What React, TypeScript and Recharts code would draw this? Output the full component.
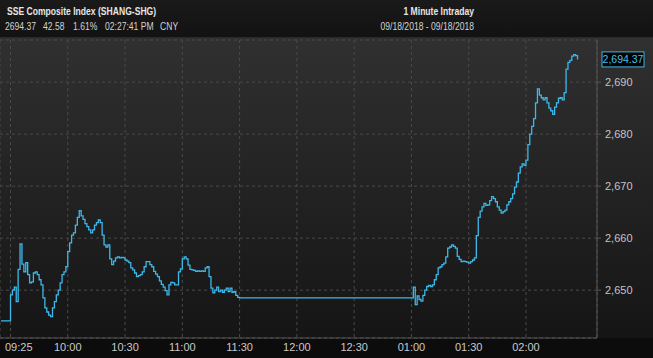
import React from 'react';
import { LineChart, Line, XAxis, YAxis, CartesianGrid, ReferenceLine } from 'recharts';

const TITLE = 'SSE Composite Index (SHANG-SHG)';
const QUOTE_ITEMS = ['2694.37', '42.58', '1.61%', '02:27:41 PM', 'CNY'];
const INTERVAL = '1 Minute Intraday';
const DATE_RANGE = '09/18/2018 - 09/18/2018';

const OPEN_TIME = '09:25';
const OPEN_VALUE = 2644.1;
const MORNING_START = '09:30';
const morningValues = [
  2649.1, 2650.0, 2650.6, 2647.8, 2654.0, 2658.9, 2655.0, 2653.5, 2655.3, 2653.0,
  2651.4, 2651.6, 2653.3, 2653.5, 2653.0, 2652.0, 2651.0, 2648.5, 2646.6, 2645.8,
  2645.2, 2644.9, 2646.6, 2647.8, 2649.1, 2650.0, 2651.4, 2653.0, 2653.5, 2654.5,
  2657.4, 2659.1, 2660.6, 2661.0, 2662.5, 2664.0, 2665.3, 2664.3, 2663.6, 2662.8,
  2662.2, 2661.6, 2661.0, 2661.6, 2662.5, 2663.0, 2663.5, 2663.0, 2660.6, 2658.7,
  2658.3, 2658.7, 2656.0, 2654.9, 2655.6, 2656.2, 2656.4, 2656.2, 2656.3, 2656.2,
  2655.8, 2655.6, 2655.3, 2654.3, 2653.9, 2653.3, 2652.6, 2652.8, 2653.0, 2653.5,
  2654.5, 2655.5, 2655.5, 2654.9, 2654.5, 2653.6, 2653.1, 2652.6, 2651.8, 2651.1,
  2650.6, 2649.9, 2649.1, 2651.0, 2651.5, 2651.4, 2651.0, 2651.0, 2653.5, 2654.1,
  2656.0, 2656.4, 2656.0, 2654.8, 2654.0, 2653.9, 2653.8, 2653.6, 2653.7, 2653.6,
  2653.7, 2653.6, 2654.3, 2654.5, 2652.6, 2650.4, 2649.5, 2650.0, 2650.6, 2649.7,
  2650.0, 2649.6, 2650.0, 2650.4, 2649.7, 2650.4, 2649.6, 2649.7, 2649.0, 2648.6,
  2648.5,
];
const AFTERNOON_START = '13:00';
const afternoonValues = [
  2648.5, 2650.6, 2647.2, 2648.9, 2648.2, 2647.9, 2649.0, 2650.0, 2650.7, 2650.9,
  2650.7, 2651.0, 2652.0, 2653.0, 2654.3, 2654.5, 2654.9, 2655.2, 2656.4, 2658.1,
  2658.3, 2658.7, 2658.4, 2658.1, 2656.5, 2655.9, 2655.5, 2655.6, 2655.5, 2655.4,
  2655.2, 2655.5, 2655.8, 2656.2, 2660.5, 2664.0, 2665.2, 2666.0, 2666.7, 2666.3,
  2666.4, 2667.2, 2668.0, 2667.6, 2667.0, 2666.0, 2665.4, 2664.8, 2665.1, 2665.4,
  2666.4, 2667.0, 2667.6, 2668.5, 2669.8, 2670.8, 2672.5, 2673.7, 2674.3, 2674.0,
  2675.0, 2678.0, 2680.0, 2681.5, 2683.0, 2686.0, 2688.7, 2687.5, 2687.0, 2686.6,
  2687.0, 2686.0, 2685.0, 2684.5, 2683.8, 2685.2, 2686.0, 2686.9, 2687.0, 2686.6,
  2688.0, 2692.5, 2693.8, 2694.2, 2695.0, 2695.3, 2695.1, 2694.37,
];
const LAST_VALUE = 2694.37;

const xTickTimes = ['09:30', '10:00', '10:30', '11:00', '11:30', '12:00', '12:30', '13:00', '13:30', '14:00'];
const xTickLabels = ['09:25', '10:00', '10:30', '11:00', '11:30', '12:00', '12:30', '01:00', '01:30', '02:00'];
const yTicks = [2650, 2660, 2670, 2680, 2690];
const Y_DOMAIN = [2640.8, 2698.1];

const toMin = (s: string) => {
  const [h, m] = s.split(':');
  return Number(h) * 60 + Number(m);
};

const data = [
  { t: toMin(OPEN_TIME), v: OPEN_VALUE },
  ...morningValues.map((v, i) => ({ t: toMin(MORNING_START) + i, v })),
  ...afternoonValues.map((v, i) => ({ t: toMin(AFTERNOON_START) + i, v })),
];
const xTicks = xTickTimes.map(toMin);

const AXIS_FONT = '"Liberation Sans", Arial, sans-serif';
const HEAD_SCALE = 0.78;

const XTick = (props: any) => {
  const { x, y, payload, index } = props;
  const label = xTickLabels[xTicks.indexOf(payload.value)] ?? '';
  const first = index === 0;
  return (
    <text
      x={first ? 5 : x}
      y={y}
      dy={9}
      textAnchor={first ? 'start' : 'middle'}
      fill="#c9c9c9"
      fontSize={11}
      fontFamily={AXIS_FONT}
    >
      {label}
    </text>
  );
};

const LastLabel = (props: any) => {
  const vb = props.viewBox || {};
  const bx = vb.x + vb.width + 5;
  const by = vb.y;
  return (
    <g>
      <rect x={bx} y={by - 7.5} width={42} height={15} fill="#000" stroke="#3db8ea" strokeWidth={1} />
      <text x={bx + 21} y={by} dy="0.36em" textAnchor="middle" fill="#45c0f0" fontSize={10.5} fontFamily={AXIS_FONT}>
        {LAST_VALUE.toLocaleString('en-US', { minimumFractionDigits: 2 })}
      </text>
    </g>
  );
};

const quoteX = [5, 43, 73, 105, 160];

export default function App() {
  const s = (x: number) => x / HEAD_SCALE;
  return (
    <div style={{ position: 'absolute', left: 0, top: 0, width: 653, height: 358, overflow: 'hidden', background: '#0c0c0c' }}>
      <div style={{ position: 'absolute', left: 0, top: 0, width: 653, height: 37, background: 'linear-gradient(#1a1a1a, #121212)' }} />
      <div style={{ position: 'absolute', left: 0, top: 37, width: 653, height: 1, background: '#2a2a2a' }} />
      <div style={{ position: 'absolute', left: 0, top: 38, width: 653, height: 300, background: 'linear-gradient(#303030, #151515)' }} />
      <svg width={653} height={37} style={{ position: 'absolute', left: 0, top: 0 }}>
        <g transform={`scale(${HEAD_SCALE},1)`} fontFamily={AXIS_FONT} fontSize={11}>
          <text x={s(7)} y={15} fill="#e6e6e6" fontWeight="bold">
            {TITLE}
          </text>
          {quoteX.map((x, i) => (
            <text key={i} x={s(x)} y={30} fill="#d2d2d2">
              {QUOTE_ITEMS[i]}
            </text>
          ))}
          <text x={s(474)} y={15} textAnchor="end" fill="#e6e6e6" fontWeight="bold">
            {INTERVAL}
          </text>
          <text x={s(474)} y={30} textAnchor="end" fill="#d2d2d2">
            {DATE_RANGE}
          </text>
        </g>
      </svg>
      <div style={{ position: 'absolute', left: 0, top: 0 }}>
        <LineChart width={653} height={358} data={data} margin={{ top: 40, right: 0, bottom: 0, left: 0 }}>
          <CartesianGrid stroke="#4a4a4a" strokeDasharray="3 3" />
          <XAxis
            dataKey="t"
            type="number"
            domain={[toMin('09:24') + 0.5, toMin('14:37') + 0.2]}
            ticks={xTicks}
            tick={<XTick />}
            tickLine={false}
            tickSize={0}
            tickMargin={4}
            height={20}
            axisLine={{ stroke: '#555' }}
            allowDataOverflow
            interval={0}
          />
          <YAxis
            orientation="right"
            type="number"
            domain={Y_DOMAIN}
            ticks={yTicks}
            width={56}
            tickSize={4}
            tickMargin={4}
            tickFormatter={(v: number) => v.toLocaleString('en-US')}
            tick={{ fill: '#c4c4c4', fontSize: 11, fontFamily: AXIS_FONT }}
            axisLine={{ stroke: '#555' }}
            tickLine={{ stroke: '#555' }}
            allowDataOverflow
            interval={0}
          />
          <ReferenceLine y={LAST_VALUE} stroke="none" label={<LastLabel />} />
          <Line
            dataKey="v"
            type="stepAfter"
            stroke="#3db8ea"
            strokeWidth={1.3}
            dot={false}
            isAnimationActive={false}
          />
        </LineChart>
      </div>
    </div>
  );
}
